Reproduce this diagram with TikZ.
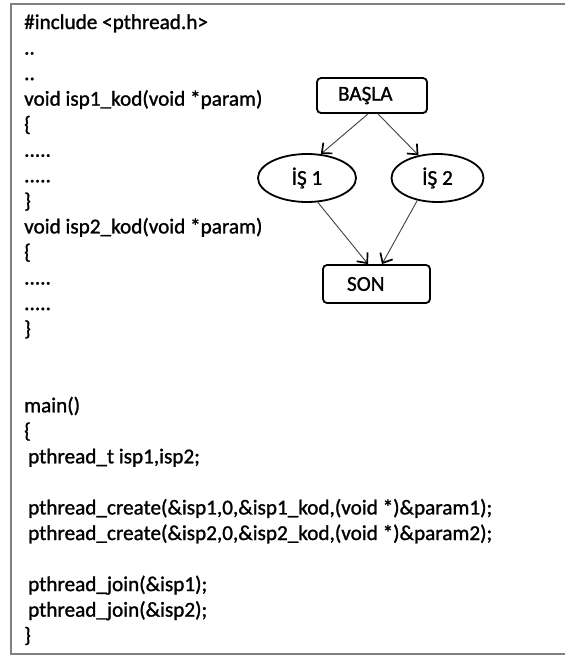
\documentclass[tikz,border=0pt]{standalone}
\usepackage{fontspec}
\setmainfont{Carlito}[RawFeature={embolden=1.2}]
\usetikzlibrary{arrows.meta,shapes.geometric}

\begin{document}
\begin{tikzpicture}[x=1pt,y=-1pt,
  txt/.style={font=\fontsize{21.2}{25.55}\selectfont},
  codeline/.style={txt, anchor=base west, inner sep=0pt},
  stepbox/.style={txt, draw=black, line width=1.8pt, rounded corners=4pt,
    align=left, inner ysep=0pt},
  task/.style={txt, ellipse, draw=black, line width=1.8pt, inner sep=0pt,
    minimum height=48pt},
  flow/.style={draw=black!75, line width=0.9pt,
    -{Straight Barb[length=8pt,width=14pt,line width=1.7pt,color=black]}}]

\useasboundingbox (0,0) rectangle (565,656);
\fill[white] (0,0) rectangle (565,656);

% frame, open on the right
\draw[gray, line width=1.6pt] (565,4) -- (11,4) -- (11,654) -- (565,654);

% source listing, one node per printed line
\foreach \n/\t in {
  0/{\#include <pthread.h>},
  1/{..},
  2/{..},
  3/{void isp1\_kod(void *param)},
  4/{\{},
  5/{.....},
  6/{.....},
  7/{\}},
  8/{void isp2\_kod(void *param)},
  9/{\{},
  10/{.....},
  11/{.....},
  12/{\}},
  15/{main()},
  16/{\{},
  17/{\hspace*{4pt}pthread\_t isp1,isp2;},
  19/{\hspace*{4pt}pthread\_create(\&isp1,0,\&isp1\_kod,(void *)\&param1);},
  20/{\hspace*{4pt}pthread\_create(\&isp2,0,\&isp2\_kod,(void *)\&param2);},
  22/{\hspace*{4pt}pthread\_join(\&isp1);},
  23/{\hspace*{4pt}pthread\_join(\&isp2);},
  24/{\}}}
  \node[codeline] (l\n) at (24, 29+25.55*\n) {\t};

% flow chart
\node[stepbox, text width=68pt, inner xsep=21pt, minimum height=35pt]
  (basla) at (372,95.5) {BAŞLA};
\node[task, minimum width=98pt] (is1) at (307,178) {İŞ 1};
\node[task, minimum width=92pt] (is2) at (437.5,178) {İŞ 2};
\node[stepbox, text width=59pt, inner xsep=24pt, minimum height=38pt]
  (son) at (376.5,284) {SON};

\draw[flow] ([xshift=-4pt]basla.south) -- (is1.60);
\draw[flow] ([xshift=6pt]basla.south) -- (is2.130);
\draw[flow] (is1.-66) -- ([xshift=-8.5pt]son.north);
\draw[flow] (is2.-132) -- ([xshift=5.5pt]son.north);
\end{tikzpicture}
\end{document}
